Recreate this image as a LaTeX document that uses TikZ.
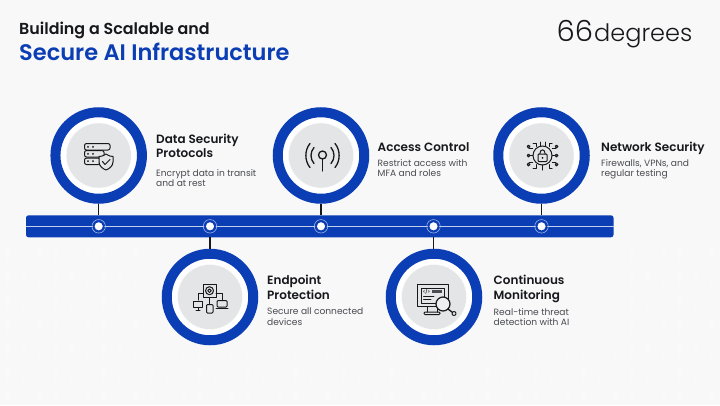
\documentclass[tikz,border=0pt]{standalone}
\usepackage{fontspec}
\setmainfont{Poppins}
\newfontfamily\headfont{Poppins SemiBold}
\newfontfamily\bodyfont{Poppins}
\newfontfamily\logofont{Poppins Light}
\definecolor{ringblue}{HTML}{0B3DB4}
\definecolor{inkblack}{HTML}{17181C}
\definecolor{bodygrey}{HTML}{4A4B50}
\definecolor{padgrey}{HTML}{E4E5E7}
\definecolor{pagegrey}{HTML}{F8F8F9}

\begin{document}
\begin{tikzpicture}[x=1pt,y=-1pt]
      \tikzset{
        ring/.style={circle,draw=ringblue,line width=10pt,fill=white,inner sep=0pt,minimum size=86.5pt},
        pad/.style={circle,fill=padgrey,draw=white!85!padgrey,line width=.5pt,inner sep=0pt,minimum size=65pt},
        stopdot/.style={circle,fill=white,draw=ringblue,line width=1.5pt,inner sep=0pt,minimum size=10pt},
        stopring/.style={circle,draw=white!70!ringblue,line width=.5pt,inner sep=0pt,minimum size=13.5pt},
        heading/.style={anchor=north west,inner sep=0pt,align=left,text=inkblack,font=\headfont\fontsize{12}{14.4}\selectfont},
        blurb/.style={anchor=north west,inner sep=0pt,align=left,text=bodygrey,font=\bodyfont\fontsize{9.1}{10.8}\selectfont},
        stem/.style={draw=inkblack,line width=1.4pt},
        icon/.style={draw=inkblack,line width=1pt,line cap=round,line join=round},
        bit/.style={text=white,inner sep=0pt,font=\bodyfont\fontsize{8}{8}\selectfont}
      }

      \fill[pagegrey] (0,0) rectangle (720,405);
      \useasboundingbox (0,0) rectangle (720,405);

      % faint digits, only in the open parts of the page
      \foreach \col in {0,...,44} {
        \foreach \row in {0,...,26} {
          \pgfmathtruncatemacro{\px}{8+\col*16}
          \pgfmathtruncatemacro{\py}{84+\row*12}
          \pgfmathtruncatemacro{\keep}{mod(\col*\col*5+\row*\row*3+\col*\row,3)==0 && (\py<101 || \px<40 && \py<210 || \px<150 && \py>245 || \py>352 || \px>625 && \py>245)}
          \ifnum\keep=1
            \pgfmathtruncatemacro{\digit}{mod(\col*7+\row*\row*3+\col*\row,2)}
            \node[bit] at (\px,\py) {\digit};
          \fi
        }
      }

      \node[anchor=base west,inner sep=0pt,text=inkblack,font=\headfont\fontsize{15.9}{18}\selectfont] (title) at (19,34.5) {Building a Scalable and};
      \node[anchor=base west,inner sep=0pt,text=ringblue,font=\headfont\fontsize{22.5}{24}\selectfont] (subtitle) at (19,60.5) {Secure AI Infrastructure};
      \node[anchor=base west,inner sep=0pt,text=inkblack,font=\logofont\fontsize{24}{30}\selectfont] (logo) at (556.5,41) {{\fontsize{29}{30}\selectfont 66}\kern1pt degrees};

      \node[ring] (data) at (98.7,155.5) {};
      \node[ring] (access) at (321,155.5) {};
      \node[ring] (network) at (541.5,155.5) {};
      \node[ring] (endpoint) at (210,297) {};
      \node[ring] (monitor) at (434,297) {};

      \node[pad] at (data) {};
      \node[pad] at (access) {};
      \node[pad] at (network) {};
      \node[pad] at (endpoint) {};
      \node[pad] at (monitor) {};

      \fill[ringblue,rounded corners=2.5pt] (26,215.3) rectangle (613.5,237.3);
      \draw[white!75!ringblue,line width=.6pt] (26,226.3) -- (613.5,226.3);

      \node[stopdot] (d1) at (98.7,226.3) {};
      \node[stopdot] (d2) at (210,226.3) {};
      \node[stopdot] (d3) at (321,226.3) {};
      \node[stopdot] (d4) at (433.5,226.3) {};
      \node[stopdot] (d5) at (541.5,226.3) {};
      \node[stopring] at (d1) {};
      \node[stopring] at (d2) {};
      \node[stopring] at (d3) {};
      \node[stopring] at (d4) {};
      \node[stopring] at (d5) {};

      \path[stem] (data.south) -- (d1.center |- 0,215.3);
      \path[stem] (access.south) -- (d3.center |- 0,215.3);
      \path[stem] (network.south) -- (d5.center |- 0,215.3);
      \path[stem] (d2.center |- 0,237.3) -- (endpoint.north);
      \path[stem] (d4.center |- 0,237.3) -- (d4.center |- 0,249);

      \node[heading] (datatxt) at (156,133.5) {Data Security\\Protocols};
      \node[blurb] (datablurb) at (156,169) {Encrypt data in transit\\and at rest};
      \node[heading] (accesstxt) at (377.5,142) {Access Control};
      \node[blurb] (accessblurb) at (377.5,159) {Restrict access with\\MFA and roles};
      \node[heading] (networktxt) at (601,142) {Network Security};
      \node[blurb] (networkblurb) at (601,159) {Firewalls, VPNs, and\\regular testing};
      \node[heading] (endpointtxt) at (267,275) {Endpoint\\Protection};
      \node[blurb] (endpointblurb) at (267,308) {Secure all connected\\devices};
      \node[heading] (monitortxt) at (493.5,275) {Continuous\\Monitoring};
      \node[blurb] (monitorblurb) at (493.5,308) {Real-time threat\\detection with AI};

      % data security icon
      \draw[icon,rounded corners=2pt] (84.5,143.5) rectangle (110,150);
      \draw[icon,rounded corners=2pt] (84.5,150.5) rectangle (104,157);
      \draw[icon,rounded corners=2pt] (84.5,158) rectangle (100,164.5);
      \fill[inkblack] (88,146.8) circle (1pt) (93,146.8) circle (1pt)
                      (88,153.8) circle (1pt) (93,153.8) circle (1pt)
                      (88,161.2) circle (1pt) (93,161.2) circle (1pt);
      \draw[icon,fill=padgrey] (106,154) .. controls (109,156) and (111,156.5) .. (113,156.5) -- (113,162)
            .. controls (113,166) and (109,169) .. (106,170) .. controls (103,169) and (99,166) .. (99,162)
            -- (99,156.5) .. controls (101,156.5) and (103,156) .. (106,154) -- cycle;
      \draw[icon] (102.5,161.5) -- (105,164.5) -- (110,159.5);

      % access control icon
      \draw[icon,line width=1.3pt] (322.5,155) circle (4);
      \draw[icon,line width=1.3pt] (322.5,159) -- (322.5,171);
      \draw[icon,line width=1.3pt] (314,147.5) .. controls (310,152) and (310,159) .. (314,163.5);
      \draw[icon,line width=1.3pt] (310,143.5) .. controls (304.5,150) and (304.5,161) .. (310,167.5);
      \draw[icon,line width=1.3pt] (331,147.5) .. controls (335,152) and (335,159) .. (331,163.5);
      \draw[icon,line width=1.3pt] (335,143.5) .. controls (340.5,150) and (340.5,161) .. (335,167.5);

      % network security icon
      \draw[icon] (542.5,155.5) circle (9.5);
      \draw[icon,rounded corners=.8pt] (538,154) rectangle (547,161.5);
      \draw[icon] (539.8,154) .. controls (539.8,148.5) and (545.2,148.5) .. (545.2,154);
      \fill[inkblack] (542.5,157.8) circle (1pt);
      \foreach \a/\b in {-14/-9,14/-9,-14/0,14/0,-14/9,14/9} {
        \draw[icon] (542.5+\a*.7,155.5+\b*.75) -- (542.5+\a*.95,155.5+\b*.75);
        \draw[icon] (542.5+\a,155.5+\b) circle (1.4);
      }
      \draw[icon] (536,146.5) -- (536,143.5) -- (533,143.5) (549,146.5) -- (549,143.5) -- (552,143.5)
                  (536,164.5) -- (536,168) -- (533,168) (549,164.5) -- (549,168) -- (552,168)
                  (540,146) -- (540,142) (545,146) -- (545,142) (542.5,165) -- (542.5,170);

      % endpoint protection icon
      \draw[icon] (203,284) rectangle (216,297.5);
      \draw[icon] (209.5,290.7) circle (1.8) (209.5,290.7) circle (4);
      \draw[icon] (209.5,297.5) -- (209.5,304);
      \draw[icon] (203,293.5) -- (198,293.5) -- (198,300);
      \draw[icon] (216,293.5) -- (222,293.5) -- (222,300);
      \draw[icon] (193.5,301) rectangle (202.5,307.5);
      \draw[icon] (196,310.5) -- (200,310.5) (198,307.5) -- (198,310.5);
      \draw[icon,rounded corners=1pt] (206.5,304.5) rectangle (213,313);
      \draw[icon,rounded corners=1pt] (217,300.5) rectangle (227,307);
      \draw[icon] (216,308.5) -- (228,308.5);

      % monitoring icon
      \draw[icon] (417.5,284.5) rectangle (448,306.5);
      \draw[icon] (421,288) rectangle (444.5,303);
      \draw[icon] (427,306.5) -- (427,312) (437,306.5) -- (437,312);
      \draw[icon,rounded corners=1pt] (424,312) rectangle (440,314.5);
      \node[inner sep=0pt,text=inkblack,font=\headfont\fontsize{4.5}{4.5}\selectfont] (code) at (426.5,291.5) {</>};
      \fill[bodygrey] (432,290) rectangle (442,293);
      \draw[icon,line width=.8pt] (423.5,296.5) -- (434,296.5) (423.5,299.5) -- (431,299.5);
      \draw[icon,fill=padgrey!60!white,line width=1.2pt] (443,304) circle (7);
      \draw[icon,line width=1.3pt] (448,309) -- (452,312);
      \draw[icon,fill=padgrey] (454,313.5) circle (2);
\end{tikzpicture}
\end{document}
